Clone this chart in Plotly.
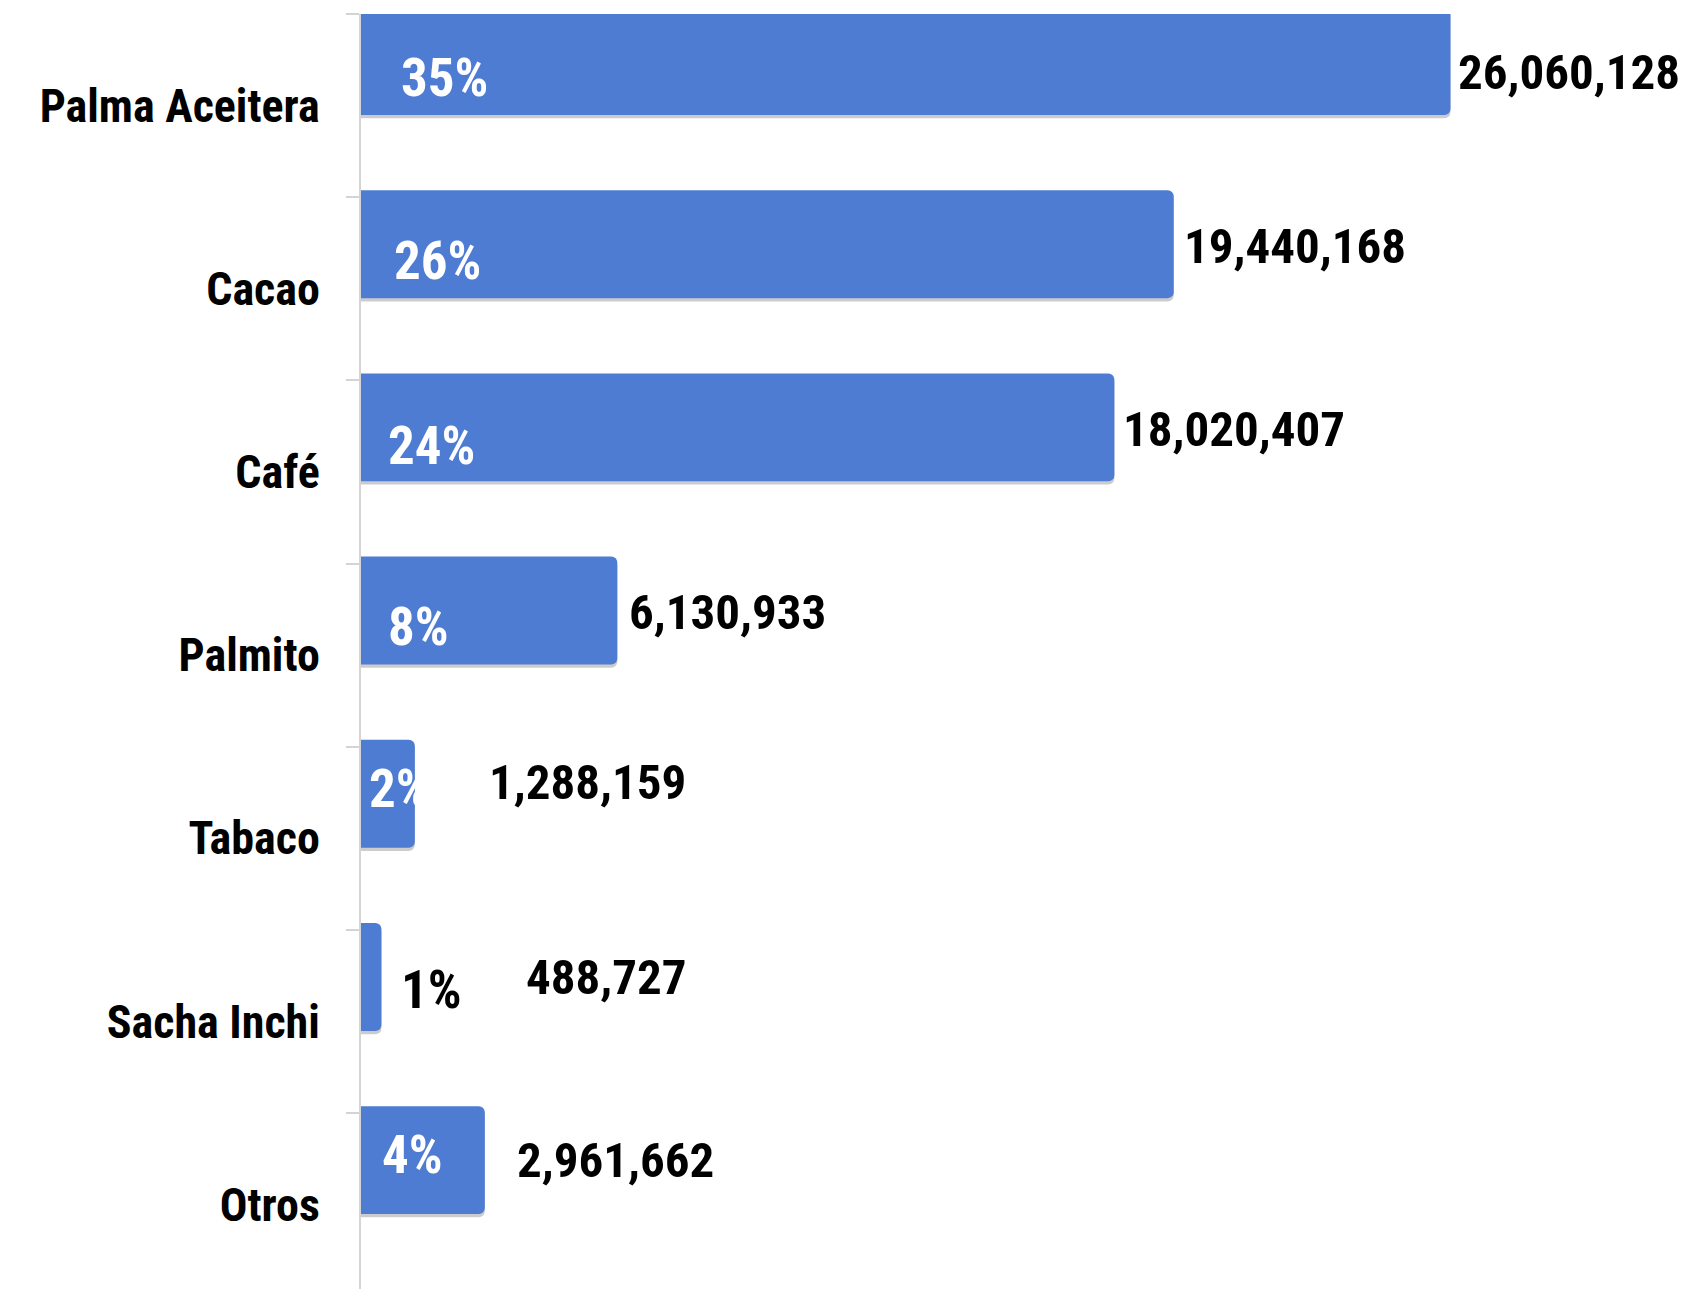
import plotly.graph_objects as go

categories = ["Palma Aceitera", "Cacao", "Café", "Palmito", "Tabaco", "Sacha Inchi", "Otros"]
values = [26060128, 19440168, 18020407, 6130933, 1288159, 488727, 2961662]

total = sum(values)
pct_labels = [f"{round(v / total * 100):.0f}%" for v in values]
value_labels = [f"{v:,}" for v in values]

# label styling / placement offsets (pixels)
value_xshift = [6, 8, 7, 10, 72, 143, 30]
value_yshift = [33, 42, 42, 43, 56, 44, 44]
pct_xshift = [38, 31, 25, 25, 6, 38, 19]
pct_yshift = [28, 28, 26, 28, 49, 32, 50]
pct_colors = ["white", "white", "white", "white", "white", "black", "white"]

FONT = "Liberation Sans Narrow, Arial Narrow, Roboto Condensed, DejaVu Sans Condensed, sans-serif"
BAR_COLOR = "#4D7CD2"

fig = go.Figure()
# soft shadow
fig.add_trace(go.Bar(
    x=values, y=categories, orientation="h",
    width=0.589, offset=-0.52,
    marker=dict(color="rgba(0,0,0,0.2)", line=dict(width=0)),
    hoverinfo="skip", showlegend=False,
))
fig.add_trace(go.Bar(
    x=values, y=categories, orientation="h",
    width=0.589, offset=-0.538,
    marker=dict(color=BAR_COLOR, line=dict(width=0)),
    showlegend=False,
))

annotations = []
for i, cat in enumerate(categories):
    annotations.append(dict(
        x=values[i], y=cat, xref="x", yref="y",
        text=f"<b>{value_labels[i]}</b>", showarrow=False,
        xanchor="left", yanchor="middle",
        xshift=value_xshift[i], yshift=value_yshift[i],
        font=dict(family=FONT, size=49, color="black"),
    ))
    annotations.append(dict(
        x=0, y=cat, xref="x", yref="y",
        text=f"<b>{pct_labels[i]}</b>", showarrow=False,
        xanchor="left", yanchor="middle",
        xshift=pct_xshift[i], yshift=pct_yshift[i],
        font=dict(family=FONT, size=53, color=pct_colors[i]),
    ))

fig.update_layout(
    width=1695, height=1281,
    margin=dict(l=353, r=0, t=6, b=0),
    paper_bgcolor="white", plot_bgcolor="white",
    barmode="overlay",
    barcornerradius=6,
    annotations=annotations,
    xaxis=dict(range=[0, 32.1e6], visible=False, showgrid=False, zeroline=False),
    yaxis=dict(
        type="category", categoryorder="array", categoryarray=categories,
        range=[6.46, -0.5],
        showline=True, linecolor="#d4d4d4", linewidth=2,
        ticks="outside", tickson="boundaries", ticklen=13, tickcolor="#d4d4d4", tickwidth=2,
        ticklabelstandoff=30,
        showgrid=False, zeroline=False,
        tickfont=dict(family=FONT, size=46, color="black", weight="bold"),
    ),
)

fig.write_html("out.html")
